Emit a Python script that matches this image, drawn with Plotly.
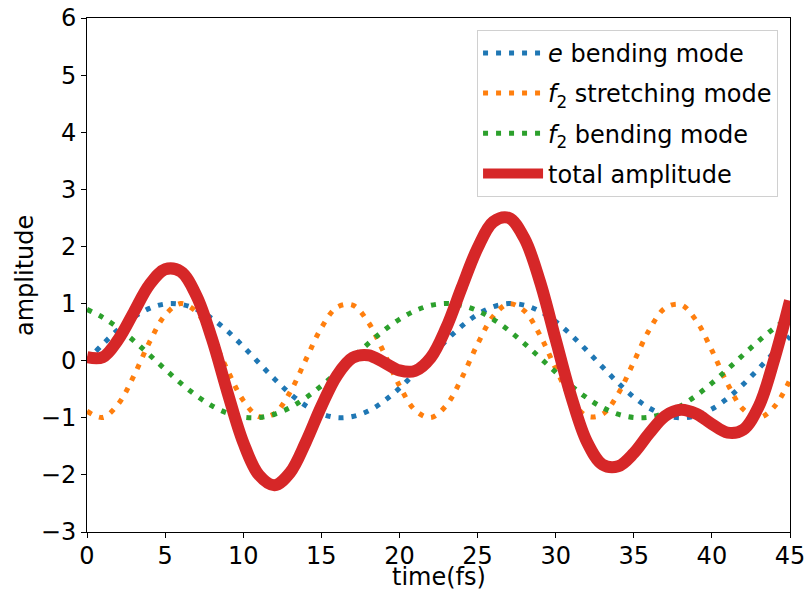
import plotly.graph_objects as go

time_fs = list(range(0, 46))

e_bending = [0.000, 0.285, 0.546, 0.762, 0.915, 0.992, 0.987, 0.900, 0.737, 0.515,
             0.249, -0.038, -0.321, -0.578, -0.787, -0.930, -0.996, -0.978, -0.883, -0.710,
             -0.482, -0.212, 0.075, 0.356, 0.608, 0.809, 0.943, 0.999, 0.972, 0.864,
             0.684, 0.448, 0.176, -0.112, -0.391, -0.638, -0.830, -0.955, -1.000, -0.962,
             -0.846, -0.659, -0.416, -0.138, 0.150, 0.425]

f2_stretching = [-0.884, -0.994, -0.760, -0.264, 0.324, 0.799, 0.999, 0.853, 0.412, -0.171,
                 -0.695, -0.979, -0.925, -0.551, 0.013, 0.573, 0.935, 0.973, 0.675, 0.144,
                 -0.437, -0.867, -0.997, -0.783, -0.298, 0.290, 0.777, 0.997, 0.871, 0.445,
                 -0.135, -0.669, -0.971, -0.938, -0.580, -0.022, 0.543, 0.921, 0.981, 0.701,
                 0.179, -0.404, -0.849, -0.999, -0.805, -0.333]

f2_bending = [0.898, 0.759, 0.572, 0.348, 0.101, -0.151, -0.394, -0.611, -0.791, -0.919,
              -0.988, -0.995, -0.938, -0.821, -0.651, -0.441, -0.201, 0.051, 0.299, 0.529,
              0.725, 0.874, 0.968, 1.000, 0.968, 0.874, 0.725, 0.529, 0.299, 0.051,
              -0.201, -0.441, -0.651, -0.821, -0.938, -0.995, -0.988, -0.919, -0.791, -0.611,
              -0.394, -0.151, 0.101, 0.348, 0.572, 0.759]

total_amplitude = [0.060, 0.060, 0.370, 0.850, 1.330, 1.600, 1.560, 1.140, 0.380, -0.560,
                   -1.430, -2.000, -2.180, -1.960, -1.430, -0.800, -0.260, 0.050, 0.095, -0.030,
                   -0.170, -0.180, 0.050, 0.580, 1.290, 1.970, 2.430, 2.500, 2.140, 1.380,
                   0.370, -0.630, -1.420, -1.820, -1.850, -1.620, -1.270, -0.970, -0.860, -0.930,
                   -1.110, -1.260, -1.210, -0.800, 0.030, 1.050]

series_names = ["<i>e</i> bending mode", "<i>f</i><sub>2</sub> stretching mode",
                "<i>f</i><sub>2</sub> bending mode", "total amplitude"]
colors = ["#1f77b4", "#ff7f0e", "#2ca02c", "#d62728"]

x_ticks = [0, 5, 10, 15, 20, 25, 30, 35, 40, 45]
y_ticks = [-3, -2, -1, 0, 1, 2, 3, 4, 5, 6]
x_title = "time(fs)"
y_title = "amplitude"

FONT = "DejaVu Sans"

fig = go.Figure()
for i, (vals, name, col) in enumerate(zip([e_bending, f2_stretching, f2_bending, total_amplitude],
                                          series_names, colors)):
    dotted = i < 3
    fig.add_trace(go.Scatter(
        x=time_fs, y=vals, mode="lines", name=name,
        legendgroup="g%d" % i,
        line=dict(color=col, width=5 if dotted else 12,
                  dash="5px,8px" if dotted else "solid", shape="spline", smoothing=1.0),
    ))

axis_common = dict(
    showline=True, linecolor="black", linewidth=1, mirror=True,
    ticks="outside", ticklen=5, tickwidth=1, tickcolor="black",
    showgrid=False, zeroline=False, automargin=False,
    tickfont=dict(family=FONT, size=24, color="black"),
)

fig.update_layout(
    width=806, height=590,
    margin=dict(l=87, r=16, t=18, b=58, autoexpand=False),
    paper_bgcolor="white", plot_bgcolor="white",
    font=dict(family=FONT, size=24, color="black"),
    showlegend=True,
    legend=dict(
        x=0.983, y=0.977, xanchor="right", yanchor="top",
        bgcolor="white", bordercolor="#d0d0d0", borderwidth=1,
        font=dict(family=FONT, size=24, color="black"),
        traceorder="grouped", tracegroupgap=6, itemwidth=60,
    ),
    xaxis=dict(range=[0, 45], tickvals=x_ticks, ticklabelstandoff=-3, **axis_common),
    yaxis=dict(range=[-3, 6], tickvals=y_ticks, **axis_common),
    annotations=[
        dict(text=x_title, xref="paper", yref="paper", x=0.5, y=-0.0885,
             xanchor="center", yanchor="middle", showarrow=False,
             font=dict(family=FONT, size=24, color="black")),
        dict(text=y_title, xref="paper", yref="paper", x=-0.0882, y=0.5,
             xanchor="center", yanchor="middle", textangle=-90, showarrow=False,
             font=dict(family=FONT, size=24, color="black")),
    ],
)

fig.write_html("out.html")
